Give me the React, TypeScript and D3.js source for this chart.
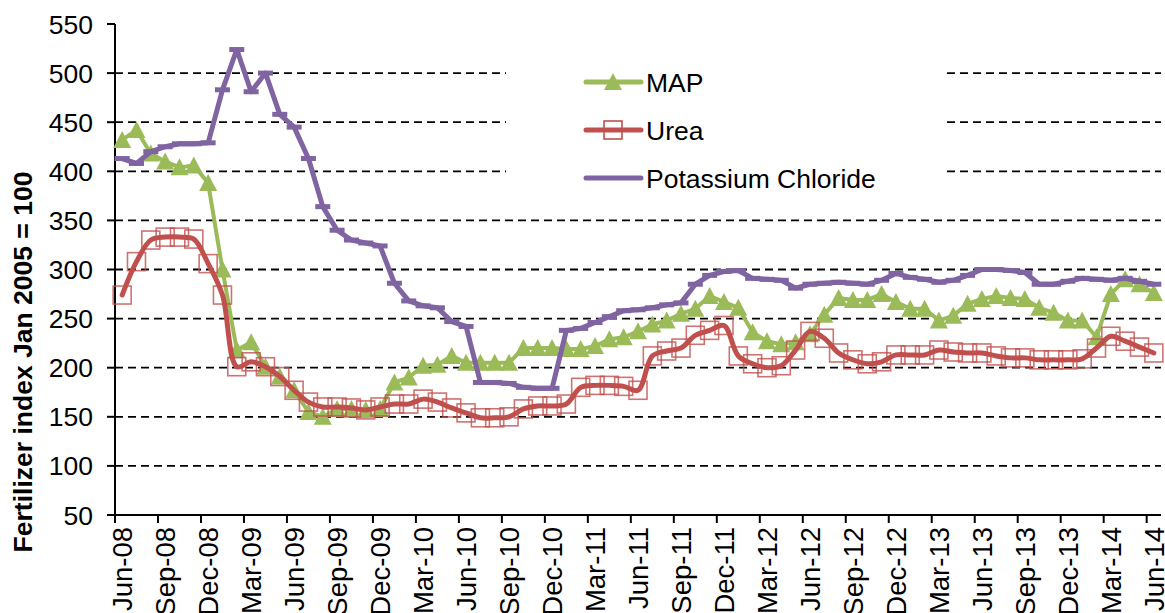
import React from 'react';
import * as d3 from 'd3';

// monthly index values, Jun-08 .. Jun-14 (73 months)
const start = new Date(2008, 5, 1);
const months = d3.timeMonth.range(start, new Date(2014, 6, 1));

const mapValues = [
  432, 442, 418, 410, 404, 406, 388, 300, 218, 226, 201, 191, 177, 155, 150, 158,
  158, 157, 158, 185, 190, 202, 203, 212, 205, 205, 205, 205, 220, 220, 220, 219,
  219, 222, 229, 231, 237, 244, 248, 255, 260, 273, 267, 261, 236, 227, 224, 226,
  234, 254, 271, 269, 269, 275, 267, 260, 260, 248, 253, 265, 270, 273, 271, 270,
  261, 256, 248, 248, 231, 275, 290, 285, 276,
];

const ureaValues = [
  274, 308, 330, 333, 333, 331, 306, 274, 201, 206, 201, 191, 177, 165, 160, 160,
  159, 157, 160, 163, 163, 168, 165, 159, 154, 149, 149, 150, 158, 161, 161, 163,
  180, 182, 182, 181, 177, 212, 217, 220, 233, 238, 243, 212, 204, 200, 202, 218,
  237, 230, 215, 208, 204, 206, 213, 213, 213, 218, 216, 215, 215, 212, 210, 210,
  208, 208, 208, 209, 220, 232, 227, 221, 215,
];

const potashValues = [
  413, 408, 420, 425, 428, 428, 429, 483, 524, 481, 500, 458, 445, 413, 364, 340,
  330, 327, 324, 286, 268, 263, 261, 247, 242, 185, 185, 184, 180, 179, 179, 238,
  240, 246, 252, 258, 259, 261, 264, 266, 285, 294, 298, 299, 291, 290, 289, 281,
  285, 286, 287, 286, 285, 289, 296, 292, 290, 287, 289, 294, 300, 300, 299, 297,
  285, 285, 288, 291, 290, 289, 291, 288, 285,
];

const tickLabels = [
  'Jun-08', 'Sep-08', 'Dec-08', 'Mar-09', 'Jun-09', 'Sep-09', 'Dec-09', 'Mar-10', 'Jun-10',
  'Sep-10', 'Dec-10', 'Mar-11', 'Jun-11', 'Sep-11', 'Dec-11', 'Mar-12', 'Jun-12', 'Sep-12',
  'Dec-12', 'Mar-13', 'Jun-13', 'Sep-13', 'Dec-13', 'Mar-14', 'Jun-14',
];

const yTicks = [50, 100, 150, 200, 250, 300, 350, 400, 450, 500, 550];
const gridValues = [100, 150, 200, 250, 300, 350, 400, 450, 500];

const GREEN = '#9BBB59';
const RED = '#C0504D';
const PURPLE = '#8064A2';
const FONT = "Arial, 'Liberation Sans', sans-serif";
const FS = 26.5;

const W = 1165;
const H = 613;
const left = 115;
const right = 1161;
const top = 24;
const bottom = 515;

const triangle = (cx: number, cy: number) =>
  `M${cx},${cy - 9}L${cx + 9},${cy + 8}L${cx - 9},${cy + 8}Z`;

const App = () => {
  const x = d3.scaleBand<number>().domain(d3.range(months.length)).range([left, right]);
  const bw = x.bandwidth();
  const cx = (i: number) => (x(i) as number) + bw / 2;
  const y = d3.scaleLinear().domain([50, 550]).range([bottom, top]);

  const straight = d3.line<number>().x((d, i) => cx(i)).y(d => y(d));
  const smooth = d3.line<number>().x((d, i) => cx(i)).y(d => y(d)).curve(d3.curveCatmullRom.alpha(0.5));

  const legendItems = [
    { name: 'MAP', color: GREEN, kind: 'tri', y: 82 },
    { name: 'Urea', color: RED, kind: 'sq', y: 130 },
    { name: 'Potassium Chloride', color: PURPLE, kind: 'bar', y: 178 },
  ];

  return (
    <div style={{ position: 'absolute', left: 0, top: 0 }}>
      <svg width={W} height={H} style={{ display: 'block', background: '#fff' }} fontFamily={FONT}>
        {/* gridlines */}
        {gridValues.map(v => (
          <line key={v} x1={left} x2={right} y1={y(v)} y2={y(v)}
            stroke="#000" strokeWidth={1.8} strokeDasharray="8,5" />
        ))}

        {/* legend box hides gridlines */}
        <rect x={506} y={50} width={440} height={152} fill="#fff" />

        {/* y axis */}
        <line x1={left} x2={left} y1={top} y2={bottom} stroke="#000" strokeWidth={2} />
        {yTicks.map(v => (
          <g key={v}>
            <line x1={left - 8} x2={left} y1={y(v)} y2={y(v)} stroke="#000" strokeWidth={2} />
            <text x={left - 22} y={y(v)} dy="0.36em" textAnchor="end" fontSize={FS}>{v}</text>
          </g>
        ))}
        <text transform={`translate(32,362) rotate(-90)`} textAnchor="middle" fontSize={FS} fontWeight="bold">
          Fertilizer index Jan 2005 = 100
        </text>

        {/* x axis */}
        <line x1={left} x2={right} y1={bottom} y2={bottom} stroke="#000" strokeWidth={2} />
        {tickLabels.map((t, k) => {
          const i = k * 3;
          const bx = x(i) as number;
          return (
            <g key={t}>
              <line x1={bx} x2={bx} y1={bottom} y2={bottom + 8} stroke="#000" strokeWidth={2} />
              <text transform={`translate(${cx(i)},${bottom + 12}) rotate(-90)`}
                dy="0.36em" textAnchor="end" fontSize={FS + 1}>{t}</text>
            </g>
          );
        })}

        {/* MAP */}
        <path d={straight(mapValues) || ''} fill="none" stroke={GREEN} strokeWidth={4} strokeLinejoin="round" />
        {mapValues.map((v, i) => (
          <path key={i} d={triangle(cx(i), y(v))} fill={GREEN} />
        ))}

        {/* Urea */}
        <path d={smooth(ureaValues) || ''} fill="none" stroke={RED} strokeWidth={5} strokeLinecap="round" />
        {ureaValues.map((v, i) => (
          <rect key={i} x={cx(i) - 9} y={y(v) - 9} width={18} height={18}
            fill="none" stroke={RED} strokeOpacity={0.8} strokeWidth={1.6} />
        ))}

        {/* Potassium Chloride */}
        <path d={straight(potashValues) || ''} fill="none" stroke={PURPLE} strokeWidth={5} strokeLinejoin="round" />
        {potashValues.map((v, i) => (
          <rect key={i} x={cx(i) - 7.5} y={y(v) - 2.5} width={15} height={5} fill={PURPLE} />
        ))}

        {/* legend */}
        {legendItems.map(it => (
          <g key={it.name}>
            <line x1={586} x2={641} y1={it.y} y2={it.y} stroke={it.color}
              strokeWidth={5} strokeLinecap="round" />
            {it.kind === 'tri' && <path d={triangle(613, it.y)} fill={it.color} />}
            {it.kind === 'sq' && (
              <rect x={604} y={it.y - 9} width={18} height={18} fill="none" stroke={RED} strokeWidth={1.6} />
            )}
            <text x={646} y={it.y} dy="0.36em" fontSize={FS}>{it.name}</text>
          </g>
        ))}
      </svg>
    </div>
  );
};

export default App;
